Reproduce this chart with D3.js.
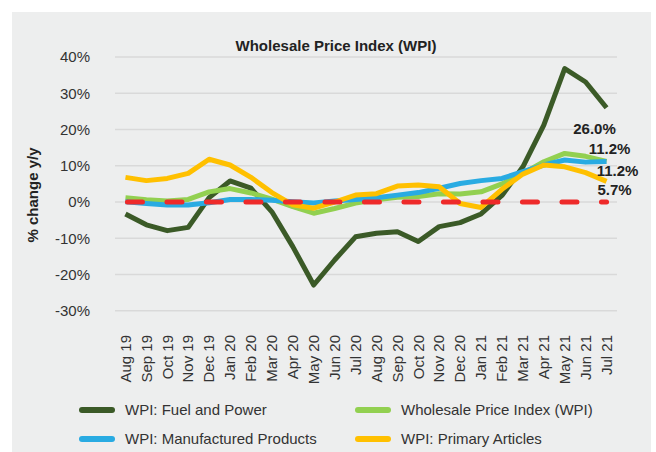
<!DOCTYPE html>
<html>
<head>
<meta charset="utf-8">
<script src="https://cdn.jsdelivr.net/npm/d3@7"></script>
<style>
  body { margin: 0; background: #fff; }
  text { font-family: "Liberation Sans", Arial, sans-serif; fill: #333; }
</style>
</head>
<body>
<div id="chart"></div>
<script>
let months = ["Aug 19","Sep 19","Oct 19","Nov 19","Dec 19","Jan 20","Feb 20","Mar 20","Apr 20","May 20","Jun 20","Jul 20",
  "Aug 20","Sep 20","Oct 20","Nov 20","Dec 20","Jan 21","Feb 21","Mar 21","Apr 21","May 21","Jun 21","Jul 21"];
let fuel = [-3.3,-6.3,-7.9,-7.0,1.2,5.8,3.8,-2.7,-12.3,-22.9,-16.0,-9.6,-8.6,-8.2,-10.9,-6.8,-5.7,-3.3,1.8,9.7,21.2,36.8,33.1,26.0];
let wpi = [1.2,0.6,0.3,0.7,2.8,3.7,2.5,0.8,-1.3,-3.1,-1.8,-0.3,0.6,1.3,1.5,2.3,2.2,2.8,5.0,7.9,11.1,13.4,12.6,11.2];
let mfg = [0.1,-0.4,-0.8,-0.8,-0.2,0.7,0.7,0.5,0.1,-0.3,0.3,0.7,1.2,1.9,2.6,3.8,5.1,5.9,6.5,8.4,10.2,11.6,11.0,11.2];
let prim = [6.8,5.9,6.5,7.9,11.8,10.2,6.8,2.6,-0.8,-1.7,0.0,1.9,2.3,4.4,4.7,4.2,-0.4,-1.5,3.5,7.7,10.2,9.7,8.1,5.7];
let yTicks = [-30,-20,-10,0,10,20,30,40];
let seriesNames = ["WPI: Fuel and Power","Wholesale Price Index (WPI)","WPI: Manufactured Products","WPI: Primary Articles"];
let seriesColors = ["#3B5A27","#92D050","#29ABE2","#FFC000"];
let endLabels = ["26.0%","11.2%","11.2%","5.7%"];

let W = 656, H = 452;
let svg = d3.select("#chart").append("svg").attr("width", W).attr("height", H);

svg.append("rect").attr("x", 12).attr("y", 12).attr("width", 639).attr("height", H - 12)
  .attr("fill", "#EDEEEE");

let x = d3.scaleBand().domain(months).range([115, 617]);
let xc = d => x(d) + x.bandwidth() / 2;
let y = d3.scaleLinear().domain([-30, 40]).range([310.75, 57]);

// grid
svg.append("g").selectAll("line").data(yTicks).enter().append("line")
  .attr("x1", 115).attr("x2", 617)
  .attr("y1", d => y(d)).attr("y2", d => y(d))
  .attr("stroke", "#D9D9D9").attr("stroke-width", 1.5);

// y axis labels
svg.append("g").selectAll("text").data(yTicks).enter().append("text")
  .attr("x", 90).attr("y", d => y(d)).attr("dy", "0.35em")
  .attr("text-anchor", "end").style("font-size", "15px")
  .text(d => d + "%");

svg.append("text")
  .attr("transform", "translate(38,195) rotate(-90)")
  .attr("text-anchor", "middle").style("font-size", "15px").style("font-weight", "bold")
  .style("fill", "#222")
  .text("% change y/y");

// x axis labels
svg.append("g").selectAll("text").data(months).enter().append("text")
  .attr("transform", d => "translate(" + xc(d) + ",335) rotate(-90)")
  .attr("dy", "0.35em").attr("text-anchor", "end").style("font-size", "15px")
  .text(d => d);

// title
svg.append("text").attr("x", 336).attr("y", 46).attr("dy", "0.35em")
  .attr("text-anchor", "middle").style("font-size", "15px").style("font-weight", "bold")
  .style("fill", "#222")
  .text("Wholesale Price Index (WPI)");

let allSeries = [fuel, wpi, mfg, prim];
let line = d3.line().x((d, i) => xc(months[i])).y(d => y(d));

allSeries.forEach(function(s, k) {
  svg.append("path").datum(s)
    .attr("d", line)
    .attr("fill", "none")
    .attr("stroke", seriesColors[k])
    .attr("stroke-width", 5)
    .attr("stroke-linejoin", "round");
});

// zero line
svg.append("line")
  .attr("x1", xc(months[0])).attr("x2", xc(months[months.length - 1]))
  .attr("y1", y(0)).attr("y2", y(0))
  .attr("stroke", "#EE2A2A").attr("stroke-width", 5)
  .attr("stroke-dasharray", "15,24.5").attr("stroke-linecap", "round")
  .attr("stroke-dashoffset", -2);

// end labels
let lastX = xc(months[months.length - 1]);
let labelOff = [[-12, 21], [3, 0], [11, 0], [8, 0]];
let labelY = [y(fuel[23]) + 21, 149, 171, 190];
endLabels.forEach(function(t, k) {
  svg.append("text")
    .attr("x", lastX + labelOff[k][0]).attr("y", labelY[k]).attr("dy", "0.35em")
    .attr("text-anchor", "middle").style("font-size", "15px").style("font-weight", "bold")
    .style("fill", "#222")
    .text(t);
});

// legend
let legendPos = [[79, 410], [355, 410], [79, 439], [355, 439]];
seriesNames.forEach(function(n, k) {
  let g = svg.append("g").attr("transform", "translate(" + legendPos[k][0] + "," + legendPos[k][1] + ")");
  g.append("line").attr("x1", 3).attr("x2", 33)
    .attr("stroke", seriesColors[k]).attr("stroke-width", 6).attr("stroke-linecap", "round");
  g.append("text").attr("x", 46).attr("dy", "0.35em").style("font-size", "15px").text(n);
});
</script>
</body>
</html>
